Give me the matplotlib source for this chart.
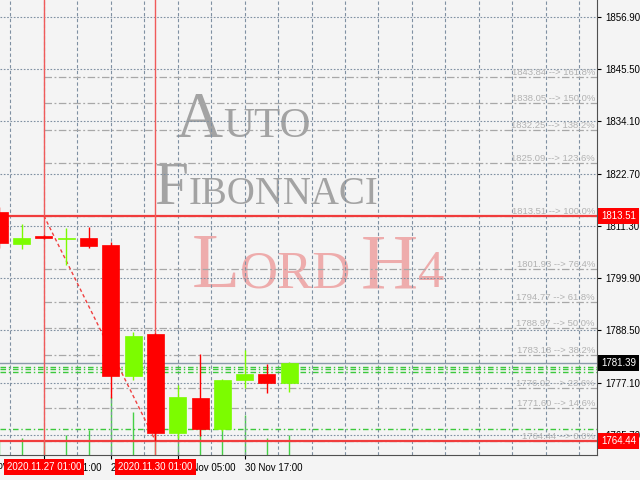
import matplotlib
matplotlib.use('Agg')
import matplotlib.pyplot as plt
import matplotlib.transforms as mtransforms
import numpy as np

# XAUUSD H4 candles, 26 Nov 21:00 .. 30 Nov 21:00
opens = [1814.4, 1807.3, 1809.2, 1808.5, 1808.7, 1807.1, 1778.6, 1787.7, 1766.1, 1773.8, 1766.9, 1777.6, 1779.1, 1777.1]
highs = [1815.5, 1811.7, 1809.4, 1810.8, 1811.1, 1807.8, 1788.2, 1788.0, 1776.5, 1783.4, 1778.0, 1784.2, 1781.1, 1781.6]
lows = [1806.5, 1806.2, 1808.4, 1802.7, 1806.4, 1773.7, 1777.6, 1764.44, 1765.0, 1765.5, 1766.5, 1776.0, 1774.9, 1775.1]
closes = [1807.5, 1808.7, 1808.6, 1808.7, 1806.9, 1778.5, 1787.3, 1766.1, 1774.0, 1766.9, 1777.6, 1779.1, 1777.1, 1781.39]
volumes = [1500, 1700, 1500, 2000, 2500, 5800, 4300, 6000, 4000, 3500, 3800, 4000, 1700, 2000]

price_ticks = [1856.90, 1845.50, 1834.10, 1822.70, 1811.30, 1799.90, 1788.50, 1777.10, 1765.70]
time_ticks = [2, 5, 8, 11]
time_labels = ['27 Nov 01:00', '27 Nov 13:00', '30 Nov 05:00', '30 Nov 17:00']

fib_high = 1813.51
fib_low = 1764.44
fib_pcts = [161.8, 150.0, 138.2, 123.6, 100.0, 76.4, 61.8, 50.0, 38.2, 23.6, 14.6, 0.0]
fib_start, fib_end = 2, 7
fib_start_label = '2020.11.27 01:00'
fib_end_label = '2020.11.30 01:00'
last_price = 1781.39
green_levels = [1780.6, 1780.0, 1779.4, 1766.94]

BG = '#f4f4f4'
GRID = '#7f90a2'
BULL = '#7cfc00'
BEAR = '#ff0000'
FS = 7.0

plt.rcParams['font.family'] = ['Liberation Sans', 'DejaVu Sans']

fig = plt.figure(figsize=(6.4, 4.8), dpi=100, facecolor=BG)
ax = fig.add_axes([0, 25 / 480, 597 / 640, 455 / 480])
vax = ax.twinx()
vax.set_zorder(ax.get_zorder() - 1)
ax.patch.set_visible(False)
vax.set_facecolor(BG)

xs = np.arange(len(opens))

# volumes at the bottom
vax.vlines(xs, 0, volumes, color='#46d046', lw=1)
vax.set_ylim(0, 45500)
vax.set_yticks([])
for s in vax.spines.values():
    s.set_visible(False)

ax.set_xlim(0.03, 26.8)
ax.set_ylim(1761.33, 1860.61)

# grid
for p in price_ticks:
    ax.axhline(p, color=GRID, lw=0.8, ls=(0, (1.5, 1.5)), zorder=1)
for gx in np.arange(0.5, 27, 1.5):
    ax.axvline(gx, color=GRID, lw=0.8, ls=(0, (3, 2.2)), zorder=1)

# watermark
rend = fig.canvas.get_renderer()

def small_caps(pieces, cx, base, color):
    texts = []
    for s, size in pieces:
        t = ax.text(0, 1 - base / 480, s, transform=fig.transFigure, fontsize=size,
                    family='Liberation Serif', color=color, va='baseline', ha='left', zorder=0.8)
        texts.append(t)
    widths = [t.get_window_extent(rend).width for t in texts]
    x = cx - sum(widths) / 2
    for t, w in zip(texts, widths):
        t.set_x(x / 640)
        x += w

small_caps([('A', 47), ('UTO', 31)], 243, 137, '#a3a3a3')
small_caps([('F', 44), ('IBONNACI', 28)], 266, 204, '#a3a3a3')
small_caps([('L', 57), ('ORD', 38), (' ', 28), ('H', 57), ('4', 38)], 318, 287, '#eeacac')

# fibonacci levels
rng = fib_high - fib_low
fib_levels = [fib_low + rng * p / 100 for p in fib_pcts]
ax.hlines(fib_levels, fib_start, 26.8, color='#a8a8a8', lw=0.9, ls=(0, (6, 2, 1.5, 2)), zorder=1.5)
lbl_tr = mtransforms.blended_transform_factory(ax.transAxes, ax.transData)
for lev, p in zip(fib_levels, fib_pcts):
    ax.text(0.9966, lev, '%.2f --> %.1f%%' % (lev, p), transform=lbl_tr, ha='right', va='bottom',
            fontsize=6.8, color='#b2b2b2', zorder=2)

for gl in green_levels:
    ax.axhline(gl, color='#3cc83c', lw=1, ls=(0, (4, 2, 1, 2)), zorder=1.6)

ax.axhline(last_price, color='#8a9aaa', lw=1, zorder=1.7)
ax.axhline(fib_high, color='#f03c3c', lw=1.6, zorder=2)
ax.axhline(fib_low, color='#f03c3c', lw=1.6, zorder=2)
ax.axvline(fib_start, color='#f05a5a', lw=1, zorder=2)
ax.axvline(fib_end, color='#f05a5a', lw=1, zorder=2)
ax.plot([fib_start, fib_end], [fib_high, fib_low], color='#f04040', lw=1, ls=(0, (2.5, 2)), zorder=2.1)

# candles
for x, o, h, l, c in zip(xs, opens, highs, lows, closes):
    col = BULL if c >= o else BEAR
    ax.vlines(x, l, h, color=col, lw=1, zorder=3)
    ax.bar(x, max(abs(c - o), 0.15), bottom=min(o, c), width=0.76, color=col,
           edgecolor=col, lw=0.5, zorder=4)

# axes styling
ax.yaxis.tick_right()
ax.set_yticks(price_ticks, ['%.2f' % p for p in price_ticks])
ax.set_xticks(time_ticks, time_labels)
for t in ax.get_xticklabels():
    t.set_ha('left')
ax.tick_params(axis='both', length=3, pad=3, labelsize=FS, colors='black')
ax.spines['left'].set_visible(False)
ax.spines['top'].set_visible(False)
ax.spines['right'].set_color('#505050')
ax.spines['bottom'].set_color('#505050')

x_tr = mtransforms.blended_transform_factory(ax.transData, ax.transAxes)
ax.text(-1, -6 / 455, '26 Nov 21:00', transform=x_tr, ha='left', va='top', fontsize=FS, clip_on=False)

# price / time markers
for p, fc in [(fib_high, BEAR), (fib_low, BEAR), (last_price, 'black')]:
    ax.text(1.007, p, '%.2f' % p, transform=lbl_tr, ha='left', va='center', fontsize=FS, color='white',
            bbox=dict(boxstyle='square,pad=0.3', fc=fc, ec='none'), zorder=6, clip_on=False)
for x, s in [(fib_start, fib_start_label), (fib_end, fib_end_label)]:
    ax.text(x, -12 / 455, s, transform=x_tr, ha='center', va='center', fontsize=FS, color='white',
            bbox=dict(boxstyle='square,pad=0.3', fc=BEAR, ec='none'), zorder=6, clip_on=False)

fig.savefig('out.png', dpi=100, facecolor=BG)
